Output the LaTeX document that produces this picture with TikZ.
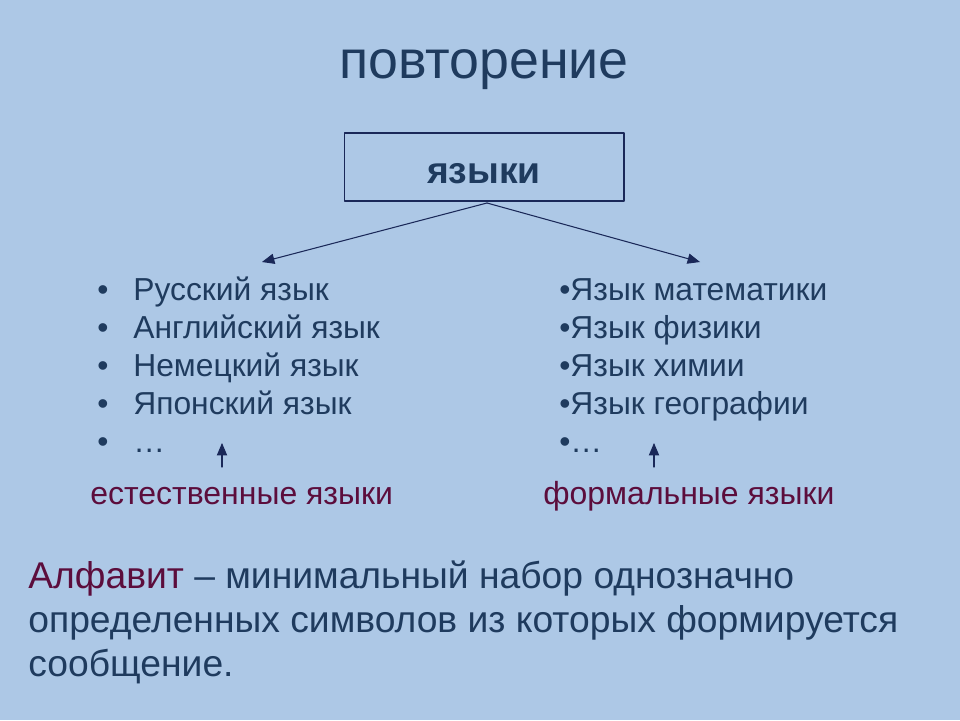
\documentclass[tikz,border=0pt]{standalone}
\usepackage{fontspec}
\setmainfont{Liberation Sans}
\usetikzlibrary{arrows}
\definecolor{bgblue}{HTML}{ADC8E6}
\definecolor{inkblue}{HTML}{1F3B5E}
\definecolor{linenavy}{HTML}{1A2858}
\definecolor{maroon}{HTML}{5C0D3C}

\begin{document}
\begin{tikzpicture}[line cap=round,line join=round,>=triangle 45,x=0.02cm,y=-0.02cm,
  item/.style={inkblue,inner sep=0pt,anchor=base west,font=\fontsize{18.1}{22}\selectfont},
  kind/.style={maroon,inner sep=0pt,anchor=base west,font=\fontsize{18.2}{22}\selectfont},
  defn/.style={inkblue,inner sep=0pt,anchor=base west,font=\fontsize{21.2}{26}\selectfont},
  link/.style={linenavy,line width=0.6pt,->}]
\fill [bgblue] (0,0) rectangle (960,720);
\useasboundingbox (0,0) rectangle (960,720);
\node [inkblue,inner sep=0pt,anchor=base,font=\fontsize{30.6}{35}\selectfont] (title) at (484,78) {повторение};
\node [draw=linenavy,line width=0.6pt,minimum width=5.6cm,minimum height=1.36cm] (langs) at (484,167) {};
\node [inkblue,inner sep=0pt,anchor=base,font=\bfseries\fontsize{21.2}{26}\selectfont] (langsLabel) at (484,183) {языки};
\coordinate (split) at (487,203);
\coordinate (natTip) at (262,262);
\coordinate (formTip) at (700,262);
\draw [link] (split)--(natTip);
\draw [link] (split)--(formTip);
% natural languages
\foreach \txt [count=\i] in {Русский язык,Английский язык,Немецкий язык,Японский язык,…} {
  \node [item] at (97,{262+38*\i}) {•};
  \node [item] (nat\i) at (133,{262+38*\i}) {\txt};
}
% formal languages
\foreach \txt [count=\i] in {Язык математики,Язык физики,Язык химии,Язык географии,…} {
  \node [item] (form\i) at (559,{262+38*\i}) {•\txt};
}
\node [kind] (natural) at (90,504) {естественные языки};
\node [kind] (formal) at (543,504) {формальные языки};
\coordinate (natFoot) at (222,467);
\coordinate (natHead) at (222,443);
\coordinate (formFoot) at (654,467);
\coordinate (formHead) at (654,443);
\draw [link] (natFoot)--(natHead);
\draw [link] (formFoot)--(formHead);
% definition
\node [defn] (def1) at (28,588) {\textcolor{maroon}{Алфавит} – минимальный набор однозначно};
\node [defn] (def2) at (28,632) {определенных символов из которых формируется};
\node [defn] (def3) at (28,676) {сообщение.};
\end{tikzpicture}
\end{document}
